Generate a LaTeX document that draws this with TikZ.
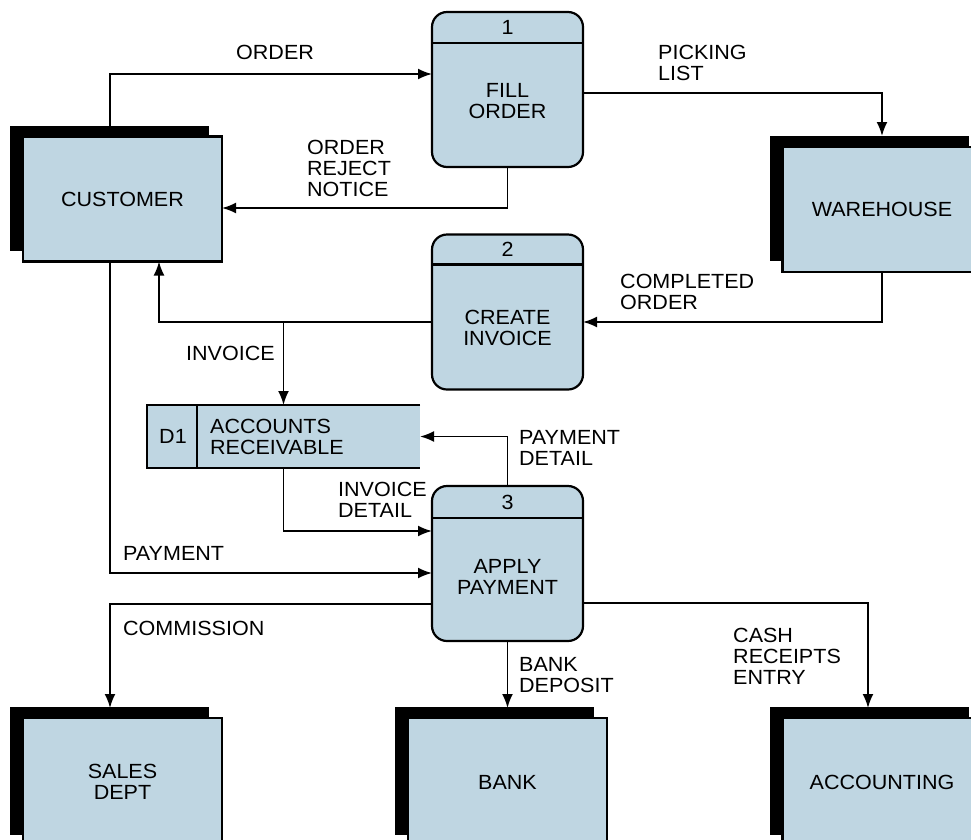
\documentclass[tikz,border=0pt]{standalone}
\usepackage{fontspec}
\setmainfont[FakeStretch=1.05]{Liberation Sans}
\usetikzlibrary{arrows.meta,shadows}

\definecolor{boxblue}{RGB}{191,214,226}
\tikzset{
  ent/.style={draw, line width=2.2pt, fill=boxblue, outer sep=0pt,
    minimum width=199pt, minimum height=125pt, align=center,
    general shadow={fill=black, shadow xshift=-13pt, shadow yshift=11pt}},
  proc/.style={draw, line width=2.2pt, fill=boxblue, outer sep=0pt,
    rounded corners=15pt, minimum width=151pt, minimum height=155pt},
  flow/.style={line width=1.9pt, -{Latex[length=14pt,width=11pt]}},
  lbl/.style={anchor=west, align=left, inner sep=0pt},
}

\begin{document}
\begin{tikzpicture}[x=1pt,y=-1pt,font=\fontsize{20.5}{21}\selectfont]
\useasboundingbox (0,0) rectangle (971,839);
\clip (0,0) rectangle (971,839);
% external entities
\node[ent] (cust) at (122.5,199) {CUSTOMER};
\node[ent] (wh) at (882,209.5) {WAREHOUSE};
\node[ent, minimum height=128pt] (sales) at (122.5,782) {SALES\\DEPT};
\node[ent, minimum height=128pt] (bank) at (507.5,782) {BANK};
\node[ent, minimum height=128pt] (acct) at (882,782) {ACCOUNTING};
% processes
\node[proc] (p1) at (507.5,89.5) {};
\draw[line width=2.2pt] ([yshift=-31pt]p1.north west) -- ([yshift=-31pt]p1.north east);
\node (n1) at ([yshift=-15.5pt]p1.north) {1};
\node[align=center] (t1) at ([yshift=-12pt]p1.center) {FILL\\ORDER};
\node[proc] (p2) at (507.5,312) {};
\draw[line width=2.2pt] ([yshift=-30pt]p2.north west) -- ([yshift=-30pt]p2.north east);
\node (n2) at ([yshift=-15pt]p2.north) {2};
\node[align=center] (t2) at ([yshift=-16pt]p2.center) {CREATE\\INVOICE};
\node[proc] (p3) at (507.5,563.5) {};
\draw[line width=2.2pt] ([yshift=-32pt]p3.north west) -- ([yshift=-32pt]p3.north east);
\node (n3) at ([yshift=-16pt]p3.north) {3};
\node[align=center] (t3) at ([yshift=-13.5pt]p3.center) {APPLY\\PAYMENT};
% data store
\node[fill=boxblue, outer sep=0pt, minimum width=273pt, minimum height=63pt] (store) at (283.5,436.5) {};
\draw[line width=2.2pt] (store.north east) -- (store.north west) -- (store.south west) -- (store.south east);
\draw[line width=2.2pt] ([xshift=50pt]store.north west) -- ([xshift=50pt]store.south west);
\node (d1) at ([xshift=26pt]store.west) {D1};
\node[lbl] (ar) at ([xshift=63pt]store.west) {ACCOUNTS\\RECEIVABLE};
% data flows
\draw[flow] ([xshift=-12.5pt]cust.north) |- ([yshift=15.5pt]p1.west);
\draw[flow] ([yshift=-3.5pt]p1.east) -| ([yshift=11pt]wh.north);
\draw[flow] (p1.south) |- ([yshift=-9pt]cust.east);
\draw[flow] (wh.south) |- ([yshift=-10pt]p2.east);
\coordinate (inv) at ([yshift=-10pt]p2.west);
\draw[flow] (inv) -| ([xshift=36.5pt]cust.south);
\draw[flow] (inv -| store.north) -- (store.north);
\draw[flow] (store.south) |- ([yshift=32.5pt]p3.west);
\draw[flow] (p3.north) |- (store.east);
\draw[flow] ([xshift=-12.5pt]cust.south) |- ([yshift=-9.5pt]p3.west);
\draw[flow] ([yshift=-40.5pt]p3.west) -| ([shift={(-12.5pt,10pt)}]sales.north);
\draw[flow] (p3.south) -- ([yshift=10pt]bank.north);
\draw[flow] ([yshift=-39.5pt]p3.east) -| ([shift={(-14pt,10pt)}]acct.north);
% flow labels
\node[lbl] (l-order) at (236,52) {ORDER};
\node[lbl] (l-pick) at (658,63) {PICKING\\LIST};
\node[lbl] (l-reject) at (307,168) {ORDER\\REJECT\\NOTICE};
\node[lbl] (l-compl) at (620,292) {COMPLETED\\ORDER};
\node[lbl] (l-inv) at (186,353) {INVOICE};
\node[lbl] (l-paydet) at (519,448) {PAYMENT\\DETAIL};
\node[lbl] (l-invdet) at (338,500) {INVOICE\\DETAIL};
\node[lbl] (l-pay) at (123,553) {PAYMENT};
\node[lbl] (l-comm) at (123,628) {COMMISSION};
\node[lbl] (l-bank) at (519,675.5) {BANK\\DEPOSIT};
\node[lbl] (l-cash) at (733,656) {CASH\\RECEIPTS\\ENTRY};
\end{tikzpicture}
\end{document}
